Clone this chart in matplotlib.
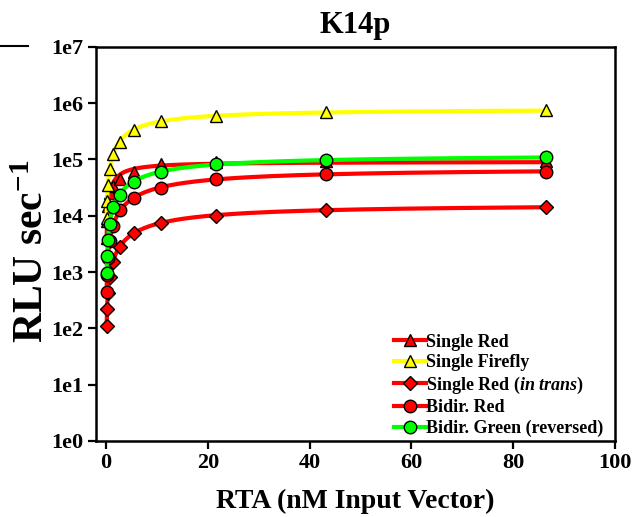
import numpy as np
import matplotlib
matplotlib.use('Agg')
import matplotlib.pyplot as plt
from matplotlib.lines import Line2D

# serial dilution of input vector (nM)
rta_nm = [0.084, 0.169, 0.3375, 0.675, 1.35, 2.7, 5.4, 10.8, 21.6, 43.2, 86.4]

# RLU / sec
single_red = [4.0e3, 8.0e3, 1.5e4, 2.5e4, 3.3e4, 4.4e4, 6.0e4, 8.2e4, 9.0e4, 9.3e4, 9.5e4]
single_firefly = [9.2e3, 1.8e4, 3.5e4, 6.8e4, 1.26e5, 2.0e5, 3.3e5, 4.7e5, 6.0e5, 6.8e5, 7.5e5]
single_red_trans = [1.1e2, 2.2e2, 4.3e2, 8.0e2, 1.5e3, 2.8e3, 4.9e3, 7.4e3, 1.0e4, 1.26e4, 1.44e4]
bidir_red = [4.5e2, 9.0e2, 1.8e3, 3.5e3, 6.6e3, 1.25e4, 2.1e4, 3.1e4, 4.5e4, 5.5e4, 6.0e4]
bidir_green = [9.6e2, 1.9e3, 3.7e3, 7.1e3, 1.4e4, 2.3e4, 4.0e4, 6.0e4, 8.2e4, 9.8e4, 1.08e5]

labels = ['Single Red', 'Single Firefly', r'Single Red ($\mathit{in\ trans}$)',
          'Bidir. Red', 'Bidir. Green (reversed)']
series = [single_red, single_firefly, single_red_trans, bidir_red, bidir_green]
line_colors = ['#ff0000', '#ffff00', '#ff0000', '#ff0000', '#00ff00']
face_colors = ['#ff0000', '#ffff00', '#ff0000', '#ff0000', '#00ff00']
markers = ['^', '^', 'D', 'o', 'o']
msizes = [9, 9, 7, 9, 9]

plt.rcParams['font.family'] = 'Liberation Serif'
plt.rcParams['font.weight'] = 'bold'
plt.rcParams['mathtext.fontset'] = 'custom'
plt.rcParams['mathtext.rm'] = 'Liberation Serif:bold'
plt.rcParams['mathtext.it'] = 'Liberation Serif:italic:bold'
plt.rcParams['mathtext.bf'] = 'Liberation Serif:bold'
plt.rcParams['mathtext.default'] = 'rm'


def hyperbola_fit(x, y):
    """one-site saturation fit y = bmax*x/(kd+x), least squares in log space"""
    x = np.asarray(x)
    ly = np.log(np.asarray(y))
    best = None
    for kd in np.logspace(-2, 2, 2000):
        g = np.log(x / (kd + x))
        lb = np.mean(ly - g)
        err = np.sum((ly - g - lb) ** 2)
        if best is None or err < best[0]:
            best = (err, kd, np.exp(lb))
    return best[1], best[2]


fig = plt.figure(figsize=(6.33, 5.17), dpi=100)
ax = fig.add_axes([96 / 633, 1 - 441 / 517, (615 - 96) / 633, (441 - 46.7) / 517])

xs = np.logspace(np.log10(rta_nm[0]), np.log10(rta_nm[-1]), 400)
handles = []
for vals, lab, lc, fc, mk, ms in zip(series, labels, line_colors, face_colors, markers, msizes):
    kd, bmax = hyperbola_fit(rta_nm, vals)
    ax.plot(xs, bmax * xs / (kd + xs), color=lc, lw=3, solid_capstyle='butt')
    ax.plot(rta_nm, vals, linestyle='none', marker=mk, ms=ms, mfc=fc, mec='black', mew=1)
    handles.append(Line2D([], [], color=lc, lw=3, marker=mk, ms=ms, mfc=fc,
                          mec='black', mew=1, label=lab))

ax.set_yscale('log')
ax.set_xlim(-2, 100)
ax.set_ylim(1, 1e7)
ax.set_xticks([0, 20, 40, 60, 80, 100])
ax.set_yticks([10.0 ** k for k in range(8)])
ax.set_yticklabels(['1e%d' % k for k in range(8)])
ax.yaxis.set_minor_locator(matplotlib.ticker.NullLocator())
ax.tick_params(direction='out', length=6, width=1.6, labelsize=16, pad=3)
for s in ax.spines.values():
    s.set_linewidth(1.8)

ax.set_title('K14p', fontsize=22, fontweight='bold', pad=10)
ax.set_xlabel('RTA (nM Input Vector)', fontsize=20, fontweight='bold', labelpad=11)
ax.set_ylabel('RLU sec$^{-1}$', fontsize=30, fontweight='bold')
ax.yaxis.set_label_coords(-0.084, 0.48)

ax.legend(handles=handles, loc='lower right', frameon=False, fontsize=13,
          handlelength=1.75, handletextpad=0.0, labelspacing=0.2,
          borderaxespad=0.1, borderpad=0.1, bbox_to_anchor=(0.984, 0.0))

# short stray rule at top left of the original figure
fig.add_artist(Line2D([0, 28 / 633], [1 - 46 / 517] * 2, color='black', lw=1.5))

fig.savefig('out.png', dpi=100)
